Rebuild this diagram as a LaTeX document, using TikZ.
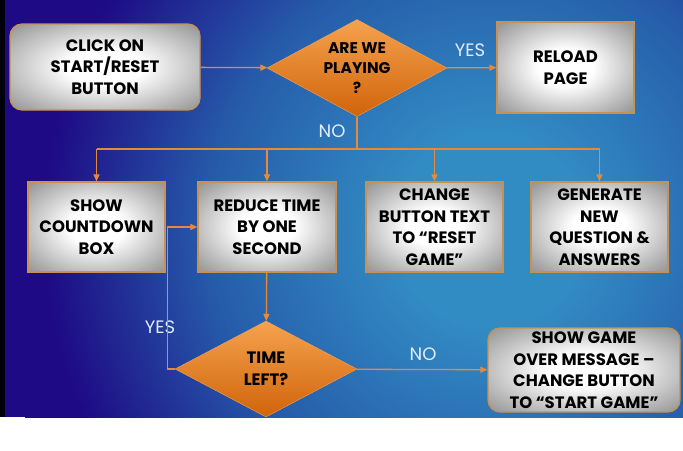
\documentclass[tikz,border=0pt]{standalone}
\usepackage{fontspec}
\setmainfont{Poppins}
\usetikzlibrary{shapes.geometric,arrows.meta}

% Farben
\definecolor{bgdunkel}{RGB}{30,10,133}
\definecolor{bgmitte}{RGB}{38,92,170}
\definecolor{bghell}{RGB}{50,140,196}
\definecolor{kante}{RGB}{200,145,80}
\definecolor{pfeil}{RGB}{232,137,58}
\definecolor{orangehell}{RGB}{245,162,78}
\definecolor{orangedunkel}{RGB}{208,100,10}
\definecolor{schrift}{RGB}{226,236,250}
\colorlet{boxmitte}{black!42}
\colorlet{boxrand}{black!60}

% Verlaeufe
\pgfdeclareradialshading{hintergrund}{\pgfpoint{0bp}{0bp}}{color(0bp)=(bghell); color(5bp)=(bghell); color(15bp)=(bgmitte); color(24bp)=(bgdunkel); color(50bp)=(bgdunkel)}
\pgfdeclareradialshading{kasten}{\pgfpoint{0bp}{0bp}}{color(0bp)=(white); color(10bp)=(white); color(35bp)=(boxmitte); color(50bp)=(boxrand)}

\tikzset{
	schritt/.style={rectangle, draw=kante, line width=1.2pt, shade, shading=kasten,
		minimum width=137pt, minimum height=90pt, inner sep=0pt, align=center,
		font=\fontsize{16.5}{21.5}\selectfont\bfseries},
	rundschritt/.style={schritt, rounded corners=12pt},
	frage/.style={diamond, aspect=1.85, top color=orangehell, bottom color=orangedunkel,
		draw=orangehell, inner sep=0pt, align=center,
		font=\fontsize{15.5}{20}\selectfont\bfseries},
	linie/.style={draw=pfeil, line width=1.3pt},
	fluss/.style={linie, -{Triangle[length=7pt,width=6pt]}},
	antwort/.style={text=schrift, font=\fontsize{18}{20}\selectfont}
}

\begin{document}
\begin{tikzpicture}[x=1pt, y=-1pt]
	\useasboundingbox (0,0) rectangle (683,450);
	% Hintergrund
	\fill[white] (0,0) rectangle (683,450);
	\fill[black!95!blue] (0,0) rectangle (5,417);
	\fill[bgdunkel] (5,0) rectangle (683,417);
	\begin{scope}
		\clip (5,0) rectangle (683,417);
		\shade[shading=hintergrund] (25,-235) rectangle (955,695);
	\end{scope}

	% Kaesten
	\node[rundschritt, minimum width=190pt, minimum height=86pt] (start) at (105,67) {CLICK ON\\START/RESET\\BUTTON};
	\node[frage, minimum width=180pt, minimum height=97pt] (spielen) at (357,68) {ARE WE\\PLAYING\\?};
	\node[schritt, minimum height=91pt] (neuladen) at (565.5,67.5) {RELOAD\\PAGE};
	\node[schritt] (countdown) at (96.5,227) {SHOW\\COUNTDOWN\\BOX};
	\node[schritt, minimum width=138pt] (zeit) at (267,227) {REDUCE TIME\\BY ONE\\SECOND};
	\node[schritt] (knopf) at (434.5,227) {CHANGE\\BUTTON TEXT\\TO “RESET\\GAME”};
	\node[schritt] (frage) at (599.5,227) {GENERATE\\NEW\\QUESTION \&\\ANSWERS};
	\node[frage, minimum width=182pt, minimum height=96pt, font=\fontsize{16.5}{22}\selectfont\bfseries] (rest) at (266,369) {TIME\\LEFT?};
	\node[rundschritt, minimum width=192pt, minimum height=84pt] (ende) at (584,370) {SHOW GAME\\OVER MESSAGE –\\CHANGE BUTTON\\TO “START GAME”};

	% Beschriftungen
	\node[antwort] (ja1) at (470,50) {YES};
	\node[antwort] (nein1) at (332,131) {NO};
	\node[antwort] (ja2) at (160,327) {YES};
	\node[antwort] (nein2) at (423,354) {NO};

	% Verbindungen
	\coordinate (verteiler) at (357,149);
	\draw[fluss] (start) -- (spielen);
	\draw[fluss] (spielen) -- (neuladen);
	\draw[linie] (spielen.south) -- (verteiler);
	\draw[linie] (countdown.north |- verteiler) -- (frage.north |- verteiler);
	\foreach \ziel in {countdown,zeit,knopf,frage}
		\draw[fluss] (\ziel.north |- verteiler) -- (\ziel.north);
	\draw[fluss] (zeit) -- (rest);
	\draw[fluss] (rest.west) -- ++(-7,0) |- (zeit.west);
	\draw[fluss] (rest) -- (ende);
\end{tikzpicture}
\end{document}
